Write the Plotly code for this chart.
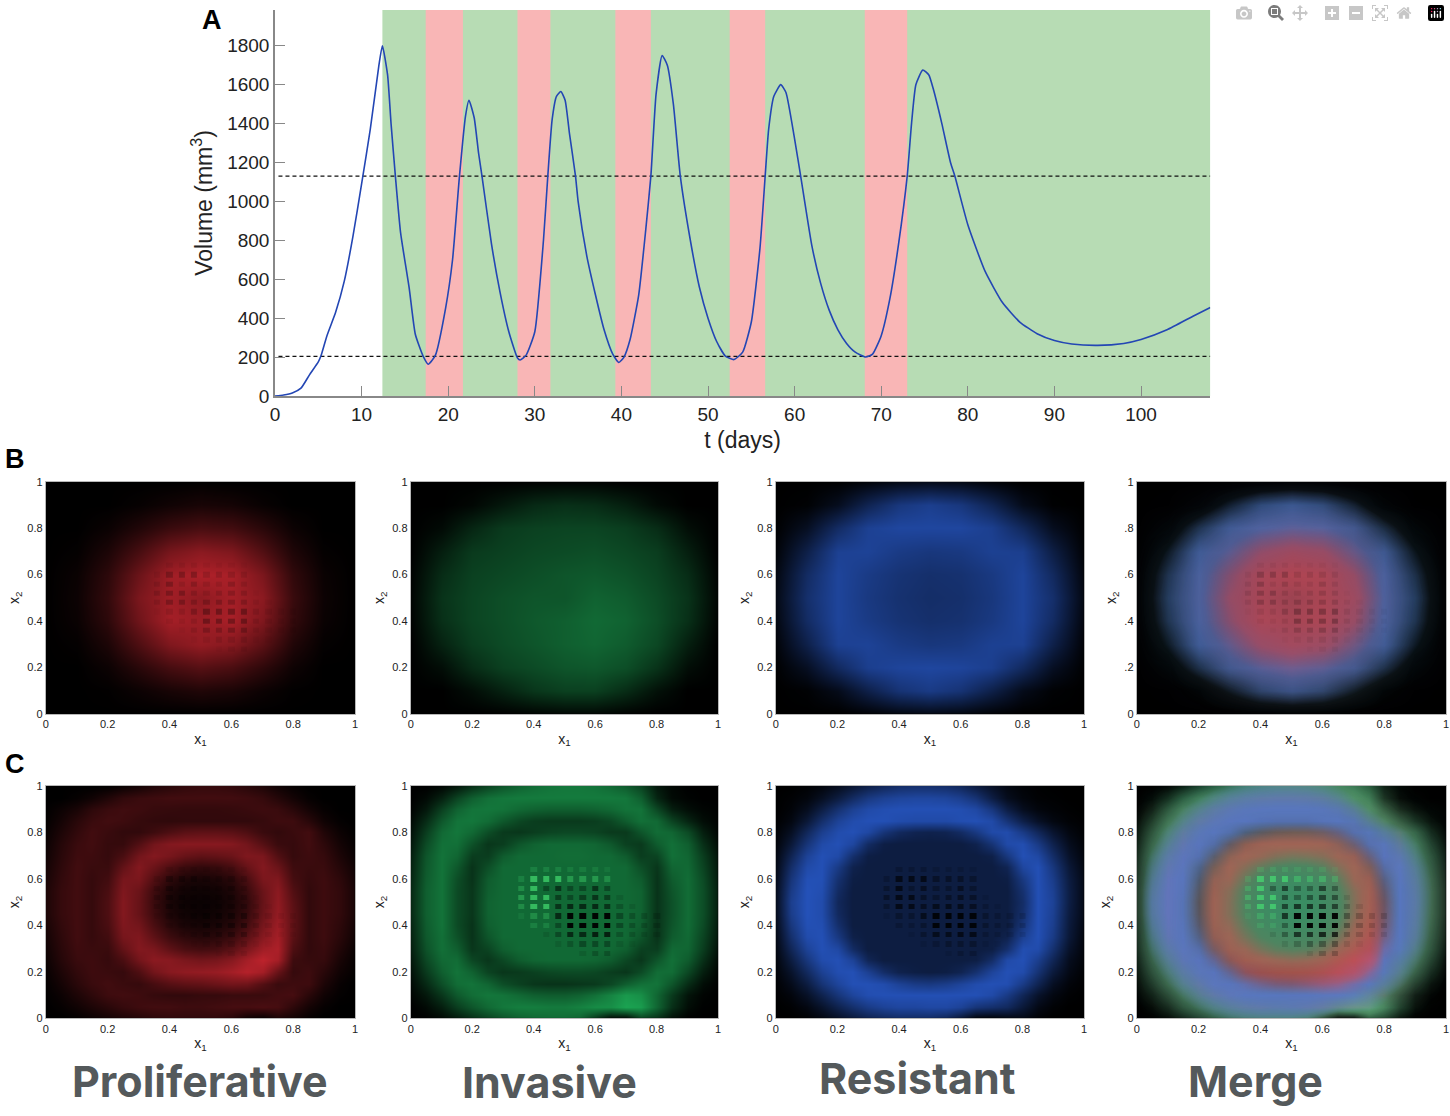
"""
Tumour volume under adaptive therapy (A) and cell-type density maps (B, C).
"""

import plotly.graph_objects as go

# --- Panel A data ---
t_days = [0, 1, 2, 3, 4, 5, 5.3, 6, 7, 8, 9, 10, 11, 12, 12.4,
          13, 13.4, 13.9, 14.5, 15.5, 16.2, 17.1, 17.7,
          18.5, 19.7, 20.5, 21.3, 22, 22.4, 23, 23.5, 23.9, 25, 26, 27, 28, 28.3,
          29, 30, 31, 31.5, 32, 32.5, 33, 33.5, 34, 34.7, 35, 36, 37, 38, 39, 39.7,
          40.3, 41, 42, 42.8, 43.4, 44, 44.7, 45.3, 46, 46.8, 48, 49, 50, 51, 52, 53,
          54, 55, 56, 56.6, 57, 57.6, 58.4, 59, 60, 60.7, 62, 63, 64, 65, 66, 67, 68.2,
          69, 70, 71, 72, 73, 73.5, 74, 74.8, 75.5, 76, 77, 78, 78.5, 80, 82, 84, 86,
          88, 90, 92, 95, 98, 100, 103, 106, 108]
volume = [0, 5, 15, 40, 110, 175, 205, 310, 430, 590, 820, 1090, 1370, 1700, 1800,
          1650, 1400, 1130, 840, 553, 317, 205, 163,
          207, 452, 700, 1130, 1440, 1520, 1430, 1250, 1130, 780, 530, 330, 195, 185,
          210, 330, 800, 1130, 1420, 1540, 1565, 1520, 1350, 1130, 1000, 720, 520, 340, 215, 172,
          200, 290, 520, 850, 1130, 1550, 1750, 1700, 1500, 1130, 790, 560, 400, 280, 205, 187,
          225, 380, 760, 1130, 1370, 1540, 1600, 1560, 1320, 1130, 770, 580, 440, 340, 270, 225, 200,
          215, 310, 500, 780, 1130, 1400, 1600, 1675, 1650, 1580, 1400, 1200, 1130, 880, 640, 480, 380,
          320, 285, 267, 260, 270, 290, 340, 410, 455]
on_treatment = [(12.4, 108)]
off_treatment = [(17.4, 21.7), (28.0, 31.8), (39.3, 43.4), (52.5, 56.6), (68.1, 73.0)]
upper_threshold = 1130
lower_threshold = 203

# --- Panels B and C data (rows run from x2=1 at the top down to x2=0) ---
grid_b = [0, 0.1, 0.2, 0.3, 0.4, 0.5, 0.6, 0.7, 0.8, 0.9, 1]
grid_c = [0, 0.05, 0.1, 0.15, 0.2, 0.25, 0.3, 0.35, 0.4, 0.45, 0.5,
          0.55, 0.6, 0.65, 0.7, 0.75, 0.8, 0.85, 0.9, 0.95, 1]

prolif_b = [
    [0, 0, 0, 0, 0, 1, 0, 0, 0, 0, 0],
    [0, 0, 0, 3, 8, 12, 10, 4, 0, 0, 0],
    [0, 0, 5, 16, 28, 35, 32, 20, 6, 0, 0],
    [0, 2, 14, 35, 58, 68, 62, 40, 15, 2, 0],
    [0, 5, 22, 52, 78, 85, 82, 60, 24, 5, 0],
    [0, 6, 25, 60, 78, 70, 80, 68, 28, 6, 0],
    [0, 5, 22, 54, 80, 76, 82, 62, 25, 5, 0],
    [0, 2, 14, 38, 62, 72, 66, 44, 16, 2, 0],
    [0, 0, 6, 20, 34, 42, 36, 22, 7, 0, 0],
    [0, 0, 1, 6, 12, 16, 13, 6, 1, 0, 0],
    [0, 0, 0, 0, 0, 0, 0, 0, 0, 0, 0],
]
invasive_b = [
    [0, 0, 0, 0, 1, 2, 2, 0, 0, 0, 0],
    [0, 0, 4, 14, 24, 28, 26, 18, 6, 0, 0],
    [0, 6, 22, 34, 38, 40, 40, 36, 26, 8, 0],
    [0, 18, 34, 38, 42, 44, 46, 42, 36, 18, 0],
    [2, 26, 38, 42, 46, 50, 52, 48, 40, 26, 2],
    [3, 30, 40, 46, 50, 50, 58, 54, 44, 30, 3],
    [2, 28, 40, 46, 52, 56, 62, 58, 46, 28, 2],
    [0, 20, 36, 44, 50, 56, 60, 54, 42, 18, 0],
    [0, 8, 26, 38, 44, 50, 52, 46, 30, 8, 0],
    [0, 0, 8, 20, 32, 38, 38, 26, 10, 0, 0],
    [0, 0, 0, 1, 3, 5, 5, 2, 0, 0, 0],
]
resistant_b = [
    [0, 0, 1, 5, 10, 12, 10, 4, 0, 0, 0],
    [0, 2, 14, 38, 58, 66, 58, 38, 12, 1, 0],
    [1, 16, 46, 68, 74, 74, 74, 66, 42, 14, 1],
    [4, 34, 68, 70, 62, 58, 60, 68, 66, 32, 3],
    [8, 46, 72, 62, 54, 50, 52, 60, 72, 44, 6],
    [10, 50, 72, 60, 52, 48, 50, 58, 72, 50, 8],
    [8, 46, 72, 62, 54, 50, 52, 60, 72, 46, 6],
    [4, 34, 68, 70, 62, 58, 60, 68, 68, 34, 3],
    [1, 16, 44, 66, 72, 74, 72, 66, 44, 16, 1],
    [0, 2, 12, 34, 54, 62, 54, 34, 12, 2, 0],
    [0, 0, 0, 3, 8, 10, 8, 3, 0, 0, 0],
]
prolif_c = [
    [0, 0, 0, 0, 1, 5, 10, 16, 20, 24, 26, 26, 24, 20, 15, 8, 3, 0, 0, 0, 0],
    [0, 0, 3, 8, 16, 24, 28, 30, 32, 32, 32, 32, 32, 30, 26, 18, 10, 3, 0, 0, 0],
    [1, 6, 12, 22, 28, 31, 30, 27, 26, 25, 25, 25, 26, 28, 30, 28, 20, 10, 3, 0, 0],
    [2, 10, 20, 28, 32, 30, 26, 24, 23, 24, 24, 24, 24, 24, 26, 30, 30, 20, 8, 2, 0],
    [4, 14, 24, 32, 28, 24, 24, 30, 38, 44, 46, 46, 44, 38, 28, 24, 28, 32, 16, 6, 1],
    [6, 18, 28, 32, 26, 26, 40, 56, 64, 66, 66, 66, 64, 56, 42, 28, 26, 32, 22, 10, 3],
    [8, 20, 30, 30, 26, 36, 56, 64, 58, 50, 46, 48, 52, 62, 60, 40, 26, 30, 26, 14, 5],
    [10, 22, 32, 28, 28, 48, 64, 52, 38, 28, 24, 26, 34, 50, 64, 52, 30, 28, 28, 18, 8],
    [12, 24, 32, 26, 32, 58, 60, 40, 22, 14, 12, 14, 20, 36, 60, 62, 34, 26, 30, 22, 10],
    [14, 26, 32, 26, 36, 62, 52, 30, 14, 8, 7, 8, 14, 28, 52, 68, 40, 24, 30, 24, 12],
    [14, 26, 32, 26, 38, 64, 50, 28, 12, 6, 5, 6, 12, 24, 50, 70, 44, 24, 30, 24, 12],
    [14, 26, 32, 26, 38, 64, 50, 30, 14, 8, 6, 8, 14, 26, 52, 72, 46, 24, 30, 24, 12],
    [12, 24, 32, 26, 36, 62, 56, 36, 20, 12, 10, 12, 18, 32, 58, 76, 46, 24, 30, 22, 10],
    [10, 22, 32, 26, 32, 58, 62, 46, 30, 22, 18, 20, 28, 44, 66, 80, 44, 24, 30, 20, 8],
    [8, 20, 30, 28, 28, 48, 64, 60, 46, 36, 32, 34, 44, 60, 78, 84, 38, 24, 28, 16, 5],
    [6, 18, 28, 30, 26, 36, 56, 68, 66, 60, 56, 58, 66, 80, 92, 80, 30, 26, 26, 12, 3],
    [4, 14, 24, 30, 28, 26, 38, 56, 66, 70, 72, 74, 80, 88, 80, 50, 26, 30, 20, 8, 2],
    [2, 10, 20, 28, 32, 28, 26, 34, 42, 46, 48, 52, 56, 54, 40, 28, 30, 30, 14, 4, 0],
    [1, 6, 14, 22, 30, 32, 30, 26, 24, 24, 26, 26, 28, 28, 28, 32, 34, 20, 8, 2, 0],
    [0, 3, 8, 14, 20, 26, 30, 32, 32, 30, 30, 32, 34, 34, 36, 34, 22, 10, 3, 0, 0],
    [0, 0, 2, 6, 10, 14, 18, 22, 24, 24, 24, 24, 20, 8, 4, 14, 10, 3, 0, 0, 0],
]
invasive_c = [
    [0, 0, 4, 14, 28, 40, 50, 58, 64, 68, 70, 70, 68, 62, 54, 40, 14, 4, 0, 0, 0],
    [0, 6, 20, 40, 56, 66, 70, 72, 72, 72, 72, 72, 72, 72, 70, 56, 22, 6, 2, 0, 0],
    [2, 14, 38, 58, 68, 70, 68, 62, 58, 56, 56, 56, 58, 62, 68, 68, 42, 18, 8, 3, 1],
    [6, 26, 52, 68, 70, 64, 52, 42, 36, 34, 34, 34, 36, 42, 54, 66, 62, 40, 22, 8, 2],
    [10, 36, 62, 70, 62, 46, 34, 32, 36, 40, 42, 42, 40, 34, 34, 50, 64, 60, 44, 18, 4],
    [14, 44, 66, 66, 48, 32, 36, 50, 58, 62, 62, 62, 60, 52, 38, 34, 54, 66, 56, 28, 8],
    [18, 50, 68, 60, 36, 36, 54, 62, 62, 62, 64, 64, 62, 62, 54, 36, 40, 66, 60, 36, 12],
    [20, 52, 68, 52, 30, 46, 62, 62, 62, 62, 62, 62, 62, 62, 62, 46, 32, 60, 62, 40, 14],
    [22, 54, 68, 46, 30, 54, 62, 62, 62, 62, 62, 62, 62, 62, 62, 54, 30, 54, 64, 44, 16],
    [24, 56, 68, 44, 32, 56, 62, 62, 62, 62, 62, 62, 62, 62, 62, 58, 30, 50, 64, 46, 18],
    [24, 56, 68, 44, 32, 58, 62, 62, 62, 62, 62, 62, 62, 62, 62, 58, 30, 48, 64, 46, 18],
    [24, 56, 68, 44, 32, 58, 62, 62, 62, 62, 62, 62, 62, 62, 62, 58, 30, 48, 64, 46, 18],
    [22, 54, 68, 44, 30, 56, 62, 62, 62, 62, 62, 62, 62, 62, 62, 56, 30, 50, 64, 44, 16],
    [20, 52, 66, 48, 30, 50, 62, 62, 62, 62, 62, 62, 62, 62, 62, 50, 30, 54, 62, 40, 14],
    [18, 48, 66, 56, 32, 40, 56, 62, 62, 62, 62, 62, 62, 62, 56, 38, 36, 62, 60, 36, 10],
    [14, 42, 62, 64, 42, 32, 42, 54, 60, 62, 62, 62, 60, 54, 42, 32, 50, 66, 54, 28, 6],
    [10, 34, 56, 68, 58, 40, 32, 34, 38, 42, 44, 44, 42, 36, 32, 44, 64, 64, 42, 18, 3],
    [6, 24, 46, 64, 68, 60, 46, 38, 32, 30, 30, 32, 34, 42, 56, 66, 68, 50, 26, 8, 1],
    [3, 14, 32, 52, 64, 70, 68, 62, 56, 54, 54, 58, 66, 78, 90, 84, 60, 34, 12, 3, 0],
    [0, 6, 18, 36, 50, 62, 70, 74, 74, 72, 72, 76, 82, 84, 96, 92, 60, 28, 8, 1, 0],
    [0, 1, 6, 16, 28, 40, 50, 58, 62, 64, 64, 60, 34, 6, 6, 40, 30, 10, 1, 0, 0],
]
resistant_c = [
    [0, 0, 2, 6, 14, 24, 34, 42, 48, 50, 50, 48, 42, 30, 18, 8, 3, 1, 0, 0, 0],
    [0, 2, 6, 16, 30, 46, 60, 68, 72, 74, 74, 72, 66, 54, 32, 14, 6, 2, 1, 0, 0],
    [0, 4, 14, 32, 52, 68, 78, 82, 84, 84, 84, 84, 82, 76, 58, 32, 14, 6, 3, 1, 0],
    [1, 8, 26, 50, 70, 80, 84, 84, 80, 78, 78, 78, 82, 84, 78, 56, 34, 18, 8, 3, 1],
    [3, 16, 42, 66, 80, 84, 76, 56, 44, 38, 36, 38, 46, 60, 78, 80, 62, 42, 22, 8, 2],
    [5, 26, 56, 78, 84, 74, 46, 32, 30, 30, 30, 30, 30, 36, 54, 78, 82, 62, 36, 14, 4],
    [8, 38, 70, 84, 78, 50, 32, 30, 30, 30, 30, 30, 30, 30, 34, 58, 84, 76, 48, 20, 6],
    [10, 48, 78, 84, 62, 36, 30, 30, 30, 30, 30, 30, 30, 30, 30, 38, 74, 84, 58, 26, 8],
    [12, 56, 84, 84, 52, 32, 30, 30, 30, 30, 30, 30, 30, 30, 30, 32, 60, 84, 64, 30, 10],
    [14, 62, 86, 82, 46, 30, 30, 30, 30, 30, 30, 30, 30, 30, 30, 30, 52, 84, 68, 32, 10],
    [14, 66, 86, 80, 42, 30, 30, 30, 30, 30, 30, 30, 30, 30, 30, 30, 48, 84, 70, 32, 10],
    [14, 64, 86, 80, 44, 30, 30, 30, 30, 30, 30, 30, 30, 30, 30, 30, 50, 84, 68, 30, 10],
    [12, 58, 84, 82, 50, 30, 30, 30, 30, 30, 30, 30, 30, 30, 30, 30, 56, 84, 66, 28, 8],
    [10, 50, 80, 84, 60, 34, 30, 30, 30, 30, 30, 30, 30, 30, 30, 36, 68, 84, 62, 26, 6],
    [8, 40, 70, 84, 76, 46, 30, 30, 30, 30, 30, 30, 30, 30, 32, 50, 82, 80, 52, 20, 5],
    [6, 30, 58, 80, 84, 70, 40, 30, 30, 30, 30, 30, 30, 32, 48, 78, 84, 66, 40, 14, 4],
    [4, 20, 44, 68, 82, 84, 68, 48, 36, 32, 30, 32, 38, 52, 72, 84, 80, 54, 28, 10, 2],
    [2, 12, 30, 54, 72, 84, 84, 80, 70, 62, 60, 64, 72, 80, 84, 82, 62, 38, 16, 5, 1],
    [1, 6, 18, 36, 56, 72, 82, 84, 84, 84, 84, 84, 84, 84, 78, 62, 40, 20, 8, 2, 0],
    [0, 2, 8, 20, 36, 50, 62, 70, 74, 74, 76, 76, 70, 56, 50, 44, 26, 10, 3, 0, 0],
    [0, 0, 2, 8, 18, 28, 38, 44, 48, 48, 48, 42, 26, 6, 4, 8, 10, 3, 0, 0, 0],
]

# checker artefact in the middle of the maps: negative = dark spot, positive = bright spot
spot_x = [0.36, 0.40, 0.44, 0.48, 0.52, 0.56, 0.60, 0.64, 0.68, 0.72, 0.76, 0.80, 0.84]
spot_y = [0.64, 0.60, 0.56, 0.52, 0.48, 0.44, 0.40, 0.36, 0.32, 0.28]
spots = [
    [0, 20, 20, 20, 15, 15, 15, 10, 0, 0, 0, 0, 0],
    [20, 70, 70, 70, 40, 40, 40, 30, 0, 0, 0, 0, 0],
    [30, 70, -30, -50, -30, -30, -50, -30, 0, 0, 0, 0, 0],
    [40, 70, 70, -40, -30, -40, -50, -40, -10, 0, 0, 0, 0],
    [30, 70, 70, -50, -60, -60, -60, -50, -20, -10, 0, 0, 0],
    [10, 30, 30, -60, -95, -95, -95, -95, -30, -20, -15, -15, 0],
    [0, 20, 20, -30, -95, -95, -95, -95, -30, -20, -15, -15, 0],
    [0, 0, -10, -30, -60, -60, -70, -70, -20, -15, -10, -10, 0],
    [0, 0, 0, -10, -20, -30, -30, -30, -10, -5, 0, 0, 0],
    [0, 0, 0, 0, 0, -10, -20, -20, 0, 0, 0, 0, 0],
]

tick_vals = [0, 0.2, 0.4, 0.6, 0.8, 1]
tick_text = ['0', '0.2', '0.4', '0.6', '0.8', '1']
tick_text_cut = ['0', '.2', '.4', '.6', '.8', '1']
row_names = ['Proliferative', 'Invasive', 'Resistant', 'Merge']

# colour ramps
red_scale = [[0, 'rgb(0,0,0)'], [1, 'rgb(205,38,48)']]
green_scale = [[0, 'rgb(0,0,0)'], [1, 'rgb(28,170,85)']]
blue_scale = [[0, 'rgb(0,0,0)'], [1, 'rgb(42,95,215)']]
green_over = [[0, 'rgba(70,190,120,0)'], [0.6, 'rgba(70,190,120,0.75)'], [1, 'rgba(70,210,120,1)']]
blue_over = [[0, 'rgba(70,125,215,0)'], [0.3, 'rgba(70,125,215,0.08)'],
             [0.6, 'rgba(70,125,215,0.6)'], [0.85, 'rgba(70,125,215,0.95)'], [1, 'rgba(70,125,215,1)']]
red_over = [[0, 'rgba(235,70,75,0)'], [0.3, 'rgba(235,70,75,0.15)'],
            [0.6, 'rgba(235,70,75,0.55)'], [1, 'rgba(235,70,75,0.8)']]
spot_scale = [[0, 'rgba(0,0,0,1)'], [0.5, 'rgba(0,0,0,0)'],
              [0.5, 'rgba(70,225,115,0)'], [1, 'rgba(70,225,115,0.95)']]
spot_dark = [[0, 'rgba(0,0,0,1)'], [0.5, 'rgba(0,0,0,0)'], [1, 'rgba(0,0,0,1)']]

W, H = 1450, 1116


def px_x(a, b):
    return [a / W, b / W]


def px_y(top, bottom):
    return [1 - bottom / H, 1 - top / H]


fig = go.Figure()

# --- Panel A ---
for a, b in on_treatment:
    fig.add_shape(type='rect', x0=a, x1=b, y0=0, y1=1984, layer='below',
                  fillcolor='#b7dcb4', line_width=0)
for a, b in off_treatment:
    fig.add_shape(type='rect', x0=a, x1=b, y0=0, y1=1984, layer='below',
                  fillcolor='#f9b6b6', line_width=0)
fig.add_trace(go.Scatter(x=[0.4, 108], y=[upper_threshold, upper_threshold], mode='lines',
                         line=dict(color='#111111', width=1.3, dash='4px,3px'), showlegend=False))
fig.add_trace(go.Scatter(x=[0.4, 108], y=[lower_threshold, lower_threshold], mode='lines',
                         line=dict(color='#111111', width=1.3, dash='4px,3px'), showlegend=False))
fig.add_trace(go.Scatter(x=t_days, y=volume, mode='lines', showlegend=False,
                         line=dict(color='#2346b4', width=1.6, shape='spline', smoothing=0.5)))

layout_axes = dict(
    xaxis=dict(domain=px_x(271.5, 1212), range=[0, 108], tick0=0, dtick=10, ticks='inside',
               ticklen=10, tickcolor='#888888', showline=True, linecolor='#888888', linewidth=1.5,
               showgrid=False, zeroline=False, tickfont=dict(family='Liberation Sans', size=19, color='#222222'),
               title=dict(text='t (days)', font=dict(family='Liberation Sans', size=23, color='#222222'), standoff=8),
               anchor='y'),
    yaxis=dict(domain=px_y(4, 396), range=[0, 1984], tick0=0, dtick=200, ticks='inside',
               ticklen=10, tickcolor='#888888', showline=True, linecolor='#888888', linewidth=1.5,
               showgrid=False, zeroline=False, tickfont=dict(family='Liberation Sans', size=19, color='#222222'),
               title=dict(text='Volume (mm<sup>3</sup>)', font=dict(family='Liberation Sans', size=23, color='#222222'),
                          standoff=8),
               anchor='x'),
)

# --- Panels B and C ---
col_px = [(41, 352), (408, 717), (775, 1085), (1138, 1449)]
row_px = [(483, 719), (792, 1028)]

panels = [
    (0, 0, grid_b, [(prolif_b, red_scale, 1)], 'dark', 0.3),
    (0, 1, grid_b, [(invasive_b, green_scale, 1)], None, 0),
    (0, 2, grid_b, [(resistant_b, blue_scale, 1)], None, 0),
    (0, 3, grid_b, [(invasive_b, green_over, 0.2), (resistant_b, blue_over, 1), (prolif_b, red_over, 1)], 'dark', 0.25),
    (1, 0, grid_c, [(prolif_c, red_scale, 1)], 'dark', 0.35),
    (1, 1, grid_c, [(invasive_c, green_scale, 1)], 'full', 1),
    (1, 2, grid_c, [(resistant_c, blue_scale, 1)], 'dark', 0.9),
    (1, 3, grid_c, [(invasive_c, green_over, 1), (resistant_c, blue_over, 1), (prolif_c, red_over, 1)], 'full', 1),
]

small_font = dict(family='Liberation Sans', size=11, color='#222222')
title_font = dict(family='Liberation Sans', size=14, color='#222222')
axis_no = 2
for row, col, grid, layers, spot_mode, spot_opacity in panels:
    xa, ya = f'x{axis_no}', f'y{axis_no}'
    for values, scale, opacity in layers:
        fig.add_trace(go.Heatmap(x=grid, y=grid[::-1], z=values, colorscale=scale, zmin=0, zmax=100,
                                 zsmooth='best', showscale=False, opacity=opacity, xaxis=xa, yaxis=ya))
    if spot_mode:
        fig.add_trace(go.Heatmap(x=spot_x, y=spot_y, z=spots,
                                 colorscale=spot_scale if spot_mode == 'full' else spot_dark,
                                 zmin=-100, zmax=100, xgap=6, ygap=4, showscale=False,
                                 opacity=spot_opacity, xaxis=xa, yaxis=ya))
    cut_labels = row == 0 and col == 3
    layout_axes[f'xaxis{axis_no}'] = dict(
        domain=px_x(*col_px[col]), range=[0, 1], anchor=ya, tickvals=tick_vals, ticktext=tick_text,
        tickfont=small_font, ticks='', showgrid=False, zeroline=False, showline=True,
        linecolor='#b8b8b8', linewidth=1, mirror=True,
        title=dict(text='x<sub>1</sub>', font=title_font, standoff=4))
    layout_axes[f'yaxis{axis_no}'] = dict(
        domain=px_y(*row_px[row]), range=[0, 1], anchor=xa, tickvals=tick_vals,
        ticktext=tick_text_cut if cut_labels else tick_text,
        tickfont=small_font, ticks='', showgrid=False, zeroline=False, showline=True,
        linecolor='#b8b8b8', linewidth=1, mirror=True,
        title=dict(text='x<sub>2</sub>', font=title_font, standoff=4))
    axis_no += 1

annotations = []
for letter, lx, ly in [('A', 208, 14), ('B', 10, 460), ('C', 10, 770)]:
    annotations.append(dict(text=f'<b>{letter}</b>', x=lx / W, y=1 - ly / H, xref='paper', yref='paper',
                            showarrow=False, xanchor='center', yanchor='middle',
                            font=dict(family='Liberation Sans', size=27, color='#000000')))
for name, lx, ly in zip(row_names, [196, 548, 918, 1257], [1092, 1093, 1089, 1092]):
    annotations.append(dict(text=f'<b>{name}</b>', x=lx / W, y=1 - ly / H, xref='paper', yref='paper',
                            showarrow=False, xanchor='center', yanchor='middle',
                            font=dict(family='Inter', size=43, color='#54595b')))

fig.update_layout(width=W, height=H, margin=dict(l=0, r=0, t=0, b=0), paper_bgcolor='white',
                  plot_bgcolor='rgba(0,0,0,0)', showlegend=False, annotations=annotations, **layout_axes)
for i in range(2, axis_no):
    fig.add_shape(type='rect', xref=f'x{i} domain', yref=f'y{i} domain', x0=0, x1=1, y0=0, y1=1,
                  layer='below', fillcolor='#000000', line_width=0)

fig.write_html("out.html", post_script="document.body.style.margin='0';")
